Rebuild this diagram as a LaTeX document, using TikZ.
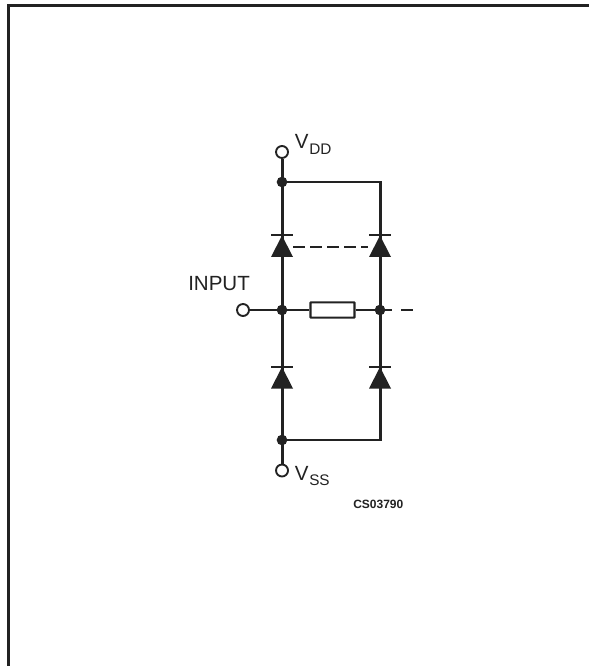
\documentclass[tikz,border=0pt]{standalone}
\usepackage{fontspec}
\setmainfont{Liberation Sans}
\definecolor{ink}{HTML}{222222}
\tikzset{
  px/.style={x=0.75pt,y=-0.75pt},
  wire/.style={draw=ink,line width=2.25pt},
  thin wire/.style={draw=ink,line width=1.5pt},
  corner wire/.style={thin wire,shorten >=-1.12pt},
  bar/.style={draw=ink,line width=1.5pt},
  dash wire/.style={draw=ink,line width=1.3pt,dash pattern=on 9pt off 3.8pt},
  dot/.style={circle,fill=ink,inner sep=0pt,minimum size=8pt},
  term/.style={circle,draw=ink,fill=white,line width=1.4pt,inner sep=0pt,minimum size=9pt},
  res/.style={draw=ink,fill=white,line width=1.6pt,minimum width=33pt,minimum height=11.5pt,inner sep=0pt,rounded corners=0.4pt},
  lab/.style={text=ink,inner sep=0pt,font=\fontsize{15.4}{15.4}\selectfont},
  sublab/.style={text=ink,inner sep=0pt,font=\fontsize{11.5}{11.5}\selectfont},
  code/.style={text=ink,inner sep=0pt,font=\bfseries\fontsize{9}{9}\selectfont},
}
\begin{document}
\begin{tikzpicture}[px]
\useasboundingbox (0,0) rectangle (589,666);
\fill[white] (0,0) rectangle (589,666);
\draw[draw=ink,line width=2.2pt] (8.5,666) -- (8.5,5.5) -- (589,5.5);
\coordinate (tr) at (380,182);
\coordinate (br) at (380,440);
\coordinate (dashend) at (413,310);
\coordinate (stub) at (392,310);
\coordinate (dashstart) at (401,310);
\coordinate (da) at (293,247);
\coordinate (db2) at (368,247);
\node[dot] (ml) at (282,310) {};
\node[dot] (mr) at (380,310) {};
\node[dot] (dt) at (282,182) {};
\node[dot] (db) at (282,440) {};
\node[term] (vdd) at (282,152) {};
\node[term] (vss) at (282,470.5) {};
\node[term] (inp) at (243,310) {};
\node[res] (r) at (332.5,310) {};
% wires
\draw[wire] (vdd) -- (dt.center);
\draw[wire] (dt.center) -- (ml.center);
\draw[wire] (ml.center) -- (db.center);
\draw[wire] (db.center) -- (vss);
\draw[corner wire] (dt.center) -- (tr);
\draw[wire] (tr) -- (mr.center);
\draw[wire] (mr.center) -- (br);
\draw[corner wire] (db.center) -- (br);
\draw[thin wire] (inp) -- (ml.center);
\draw[thin wire] (ml.center) -- (r);
\draw[thin wire] (r) -- (mr.center);
\draw[thin wire] (mr.center) -- (stub);
\draw[thin wire] (dashstart) -- (dashend);
% diodes
\foreach \x/\y in {282/235.5,380/235.5,282/367,380/367}{
  \fill[ink] (\x,\y) -- (\x-11,\y+21.5) -- (\x+11,\y+21.5) -- cycle;
  \draw[bar] (\x-11,\y) -- (\x+11,\y);
}
\draw[dash wire] (da) -- (db2);
% labels
\node[lab,anchor=base west] (vddl) at (294.5,149) {V};
\node[sublab,anchor=base west] (vdds) at (309,155) {DD};
\node[lab,anchor=base west] (vssl) at (294.5,480) {V};
\node[sublab,anchor=base west] (vsss) at (309,485) {SS};
\node[lab,anchor=base west] (inl) at (188,290) {INPUT};
\node[code,anchor=base west] (cs) at (353,508) {CS03790};
\end{tikzpicture}
\end{document}
